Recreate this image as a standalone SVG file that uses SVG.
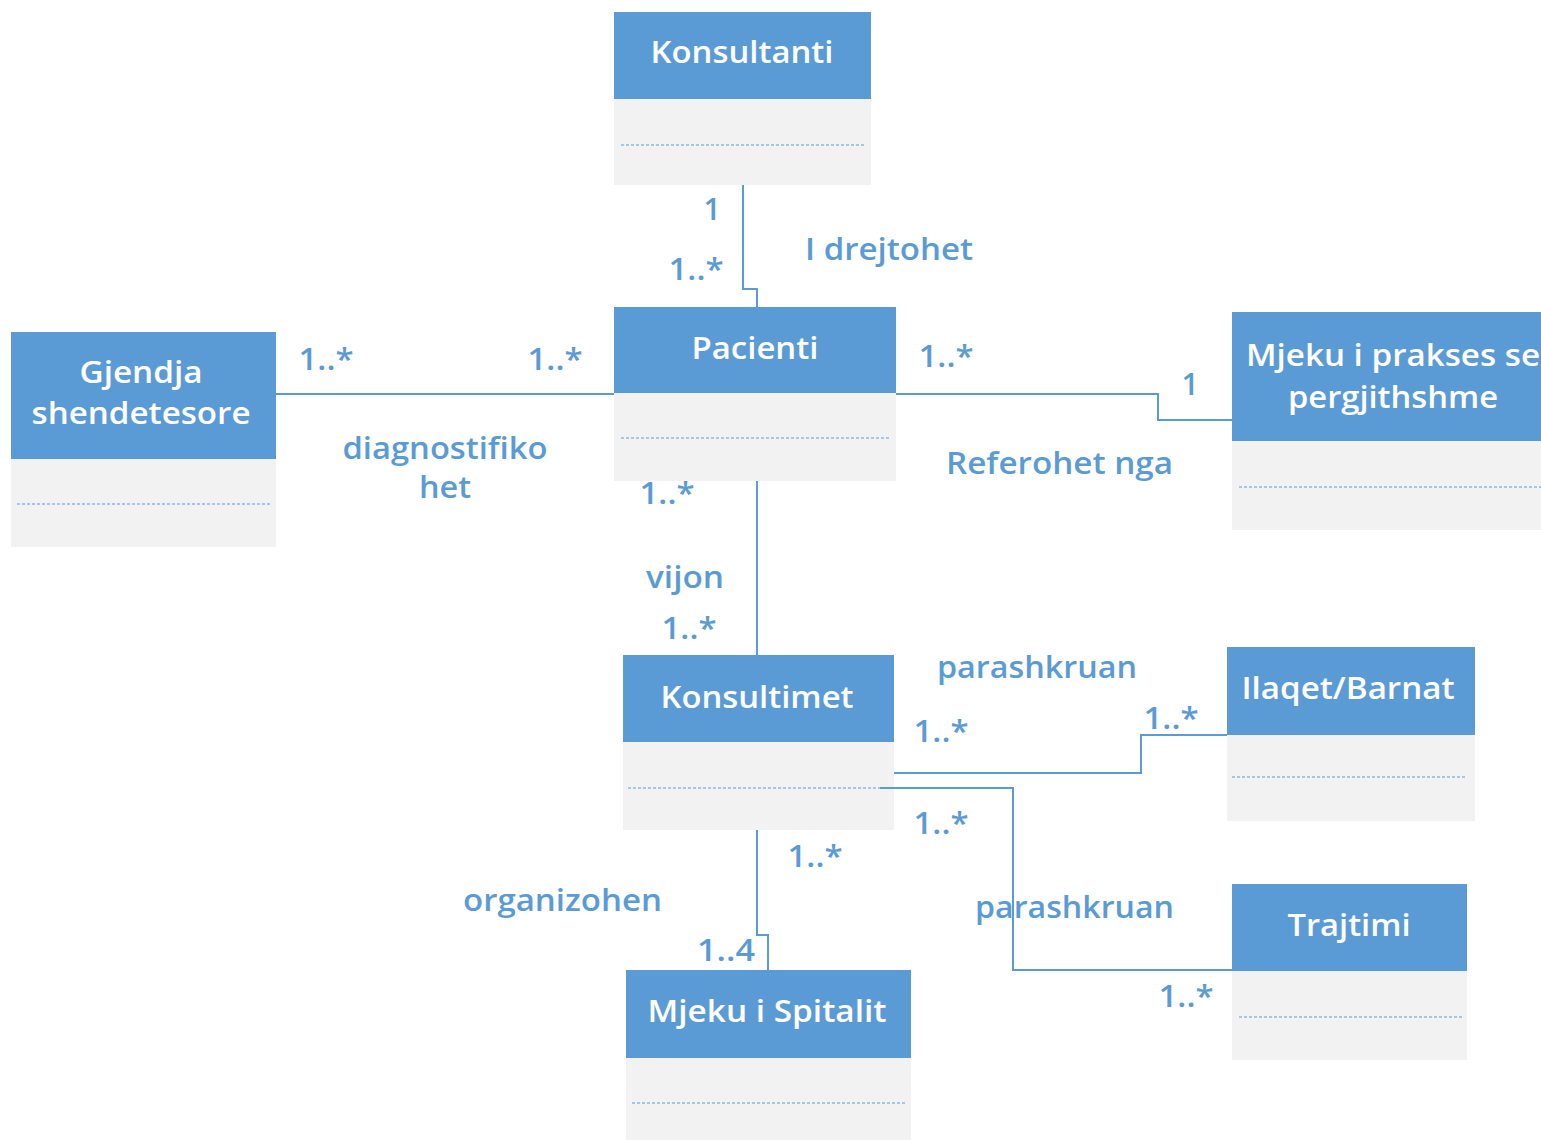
<svg xmlns="http://www.w3.org/2000/svg" width="1541" height="1140" viewBox="0 0 1541 1140">
  <style>
    .hdr { fill: #5B9BD5; }
    .body { fill: #F2F2F2; }
    .sep { stroke: #5B9BD5; stroke-width: 1.2; stroke-dasharray: 3 2; fill: none; }
    .title { fill: #FFFFFF; font-family: "Open Sans", "Noto Sans", sans-serif; font-size: 30px; font-weight: 600; text-anchor: middle; }
    .lbl { fill: #5B9BD5; font-family: "Open Sans", "Noto Sans", sans-serif; font-size: 30px; font-weight: 600; }
    .mid { text-anchor: middle; }
    .conn { stroke: #5B9BD5; stroke-width: 2; fill: none; }
  </style>

  <!-- class boxes -->
  <g id="konsultanti">
    <rect class="hdr" x="614" y="12" width="257" height="87"/>
    <rect class="body" x="614" y="99" width="257" height="86"/>
    <line class="sep" x1="621" y1="145" x2="865" y2="145"/>
    <text class="title" x="742" y="63" textLength="183" lengthAdjust="spacingAndGlyphs">Konsultanti</text>
  </g>

  <g id="pacienti">
    <rect class="hdr" x="614" y="307" width="282" height="86"/>
    <rect class="body" x="614" y="393" width="282" height="88"/>
    <line class="sep" x1="621" y1="438" x2="890" y2="438"/>
    <text class="title" x="755" y="359" textLength="127" lengthAdjust="spacingAndGlyphs">Pacienti</text>
  </g>

  <g id="gjendja">
    <rect class="hdr" x="11" y="332" width="265" height="127"/>
    <rect class="body" x="11" y="459" width="265" height="88"/>
    <line class="sep" x1="17" y1="504" x2="270" y2="504"/>
    <text class="title" x="141" y="383" textLength="123" lengthAdjust="spacingAndGlyphs">Gjendja</text>
    <text class="title" x="141" y="424" textLength="219" lengthAdjust="spacingAndGlyphs">shendetesore</text>
  </g>

  <g id="mjeku-prakses">
    <rect class="hdr" x="1232" y="312" width="330" height="129"/>
    <rect class="body" x="1232" y="441" width="330" height="89"/>
    <line class="sep" x1="1239" y1="487" x2="1541" y2="487"/>
    <text class="title" x="1393" y="366" textLength="294" lengthAdjust="spacingAndGlyphs">Mjeku i prakses se</text>
    <text class="title" x="1393" y="408" textLength="210" lengthAdjust="spacingAndGlyphs">pergjithshme</text>
  </g>

  <g id="konsultimet">
    <rect class="hdr" x="623" y="655" width="271" height="87"/>
    <rect class="body" x="623" y="742" width="271" height="88"/>
    <line class="sep" x1="628" y1="788" x2="888" y2="788"/>
    <text class="title" x="757" y="708" textLength="193" lengthAdjust="spacingAndGlyphs">Konsultimet</text>
  </g>

  <g id="ilaqet">
    <rect class="hdr" x="1227" y="647" width="248" height="88"/>
    <rect class="body" x="1227" y="735" width="248" height="86"/>
    <line class="sep" x1="1232" y1="777" x2="1467" y2="777"/>
    <text class="title" x="1348" y="699" textLength="213" lengthAdjust="spacingAndGlyphs">Ilaqet/Barnat</text>
  </g>

  <g id="trajtimi">
    <rect class="hdr" x="1232" y="884" width="235" height="87"/>
    <rect class="body" x="1232" y="971" width="235" height="89"/>
    <line class="sep" x1="1239" y1="1017" x2="1462" y2="1017"/>
    <text class="title" x="1349" y="936" textLength="123" lengthAdjust="spacingAndGlyphs">Trajtimi</text>
  </g>

  <g id="mjeku-spitalit">
    <rect class="hdr" x="626" y="970" width="285" height="88"/>
    <rect class="body" x="626" y="1058" width="285" height="82"/>
    <line class="sep" x1="632" y1="1103" x2="906" y2="1103"/>
    <text class="title" x="767" y="1022" textLength="239" lengthAdjust="spacingAndGlyphs">Mjeku i Spitalit</text>
  </g>

  <!-- associations -->
  <g id="connectors">
    <polyline class="conn" points="743,185 743,289 757,289 757,307"/>
    <line class="conn" x1="276" y1="394" x2="614" y2="394"/>
    <polyline class="conn" points="896,394 1158,394 1158,420 1232,420"/>
    <line class="conn" x1="757" y1="481" x2="757" y2="655"/>
    <polyline class="conn" points="894,773 1141,773 1141,735 1227,735"/>
    <polyline class="conn" points="880,788 1013,788 1013,970 1232,970"/>
    <polyline class="conn" points="757,830 757,935 768,935 768,970"/>
  </g>

  <!-- association labels and multiplicities -->
  <g id="labels">
    <text class="lbl mid" x="712" y="220">1</text>
    <text class="lbl mid" x="696" y="280" textLength="55" lengthAdjust="spacingAndGlyphs">1..*</text>
    <text class="lbl" x="805" y="260" textLength="168" lengthAdjust="spacingAndGlyphs">I drejtohet</text>

    <text class="lbl mid" x="326" y="370" textLength="55" lengthAdjust="spacingAndGlyphs">1..*</text>
    <text class="lbl mid" x="555" y="370" textLength="55" lengthAdjust="spacingAndGlyphs">1..*</text>
    <text class="lbl mid" x="445" y="459" textLength="205" lengthAdjust="spacingAndGlyphs">diagnostifiko</text>
    <text class="lbl mid" x="445" y="498" textLength="52" lengthAdjust="spacingAndGlyphs">het</text>

    <text class="lbl mid" x="946" y="367" textLength="55" lengthAdjust="spacingAndGlyphs">1..*</text>
    <text class="lbl mid" x="1190" y="395">1</text>
    <text class="lbl" x="946" y="474" textLength="227" lengthAdjust="spacingAndGlyphs">Referohet nga</text>

    <text class="lbl mid" x="667" y="504" textLength="55" lengthAdjust="spacingAndGlyphs">1..*</text>
    <text class="lbl mid" x="685" y="588" textLength="78" lengthAdjust="spacingAndGlyphs">vijon</text>
    <text class="lbl mid" x="689" y="639" textLength="55" lengthAdjust="spacingAndGlyphs">1..*</text>

    <text class="lbl" x="937" y="678" textLength="200" lengthAdjust="spacingAndGlyphs">parashkruan</text>
    <text class="lbl mid" x="941" y="742" textLength="55" lengthAdjust="spacingAndGlyphs">1..*</text>
    <text class="lbl mid" x="1171" y="729" textLength="55" lengthAdjust="spacingAndGlyphs">1..*</text>

    <text class="lbl mid" x="941" y="834" textLength="55" lengthAdjust="spacingAndGlyphs">1..*</text>
    <text class="lbl mid" x="815" y="867" textLength="55" lengthAdjust="spacingAndGlyphs">1..*</text>
    <text class="lbl" x="463" y="911" textLength="199" lengthAdjust="spacingAndGlyphs">organizohen</text>
    <text class="lbl" x="975" y="918" textLength="199" lengthAdjust="spacingAndGlyphs">parashkruan</text>
    <text class="lbl mid" x="726" y="961" textLength="58" lengthAdjust="spacingAndGlyphs">1..4</text>
    <text class="lbl mid" x="1186" y="1007" textLength="55" lengthAdjust="spacingAndGlyphs">1..*</text>
  </g>
</svg>
